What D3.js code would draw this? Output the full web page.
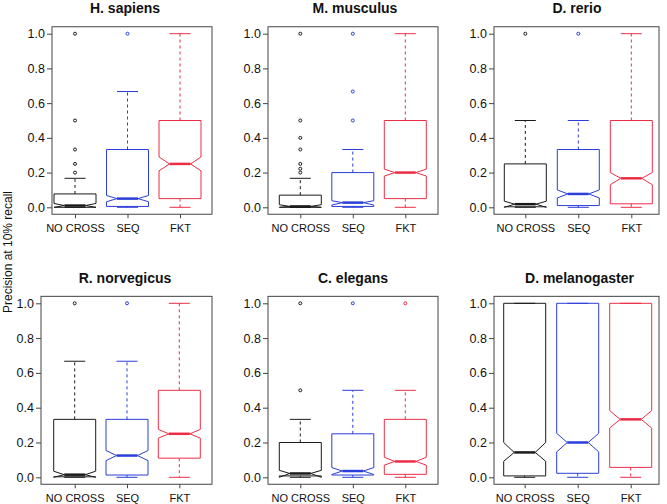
<!DOCTYPE html>
<html>
<head>
<meta charset="utf-8">
<script src="https://cdn.jsdelivr.net/npm/d3@7/dist/d3.min.js"></script>
<style>
  html, body { margin: 0; padding: 0; background: #fff; }
  svg { display: block; }
  text { font-family: "Liberation Sans", Arial, Helvetica, sans-serif; fill: #111; }
</style>
</head>
<body>
<svg id="chart" width="667" height="504"></svg>
<script>
// ---------------- data ----------------
const species = ["H. sapiens", "M. musculus", "D. rerio", "R. norvegicus", "C. elegans", "D. melanogaster"];
const categories = ["NO CROSS", "SEQ", "FKT"];
const categoryColors = ["#1a1a1a", "#2a3ed8", "#ec2d46"];
const yTickValues = [0, 0.2, 0.4, 0.6, 0.8, 1.0];
const yAxisTitle = "Precision at 10% recall";

// per species, per category [NO CROSS, SEQ, FKT]
const whiskerLow = [
  [0, 0, 0], [0, 0, 0], [0, 0, 0],
  [0, 0, 0], [0, 0, 0], [0, 0, 0]
];
const quartile1 = [
  [0, 0.005, 0.05], [0, 0.005, 0.05], [0.003, 0.01, 0.02],
  [0.003, 0.013, 0.11], [0.008, 0.013, 0.017], [0.008, 0.023, 0.057]
];
const medians = [
  [0.01, 0.05, 0.25], [0.005, 0.027, 0.2], [0.018, 0.077, 0.167],
  [0.015, 0.125, 0.25], [0.022, 0.036, 0.091], [0.143, 0.2, 0.333]
];
const quartile3 = [
  [0.077, 0.333, 0.5], [0.07, 0.2, 0.5], [0.25, 0.333, 0.5],
  [0.333, 0.333, 0.5], [0.2, 0.25, 0.333], [1.0, 1.0, 1.0]
];
const whiskerHigh = [
  [0.167, 0.667, 1.0], [0.167, 0.333, 1.0], [0.5, 0.5, 1.0],
  [0.667, 0.667, 1.0], [0.333, 0.5, 0.5], [1.0, 1.0, 1.0]
];
const notchLow = [
  [0.0, 0.032, 0.21], [0.0, 0.013, 0.18], [0.0, 0.054, 0.13],
  [0.0, 0.096, 0.225], [0.0, 0.016, 0.07], [0.092, 0.146, 0.283]
];
const notchHigh = [
  [0.022, 0.068, 0.29], [0.015, 0.038, 0.22], [0.035, 0.1, 0.2],
  [0.035, 0.154, 0.275], [0.04, 0.056, 0.115], [0.2, 0.253, 0.383]
];
const outliers = [
  [[0.2, 0.25, 0.333, 0.5, 1.0], [1.0], []],
  [[0.2, 0.222, 0.25, 0.333, 0.4, 0.5, 1.0], [0.5, 0.667, 1.0], []],
  [[1.0], [1.0], []],
  [[1.0], [1.0], []],
  [[0.5, 1.0], [1.0], [1.0]],
  [[], [], []]
];

// ---------------- layout ----------------
const panels = [
  { frame: [52, 212],  centers: [75, 180],       row: 0, titleX: 125 },
  { frame: [268, 438], centers: [300.3, 405.3],  row: 0, titleX: 355 },
  { frame: [494, 659], centers: [525.3, 631.3],  row: 0, titleX: 577 },
  { frame: [41, 212],  centers: [74.7, 179.3],   row: 1, titleX: 125 },
  { frame: [268, 438], centers: [300.3, 405.3],  row: 1, titleX: 353 },
  { frame: [494, 659], centers: [524.7, 630.7],  row: 1, titleX: 579.5 }
];
const rows = [
  { y0: 207.3, y1: 33.7, titleY: 13 },
  { y0: 477.3, y1: 303.3, titleY: 283 }
];
const halfBox = 21, halfStaple = 10.5;

const svg = d3.select("#chart");

panels.forEach((p, i) => {
  const r = rows[p.row];
  const y = d3.scaleLinear().domain([0, 1]).range([r.y0, r.y1]);
  const x = d3.scalePoint().domain(categories).range(p.centers);
  const pad = 0.04 * (r.y0 - r.y1);
  const top = r.y1 - pad, bottom = r.y0 + pad;
  const g = svg.append("g");

  // title
  g.append("text")
    .attr("x", p.titleX).attr("y", r.titleY)
    .attr("text-anchor", "middle")
    .style("font-weight", "bold").style("font-size", "14px")
    .text(species[i]);

  // y axis
  const ya = g.append("g").attr("transform", `translate(${p.frame[0]},0)`)
    .call(d3.axisLeft(y).tickValues(yTickValues).tickFormat(d3.format(".1f")).tickSize(5).tickPadding(2));
  ya.select(".domain").remove();
  ya.selectAll("line").attr("stroke", "#444");
  ya.selectAll("text").style("font-size", "12.5px").attr("fill", "#111");

  // x axis
  const xa = g.append("g").attr("transform", `translate(0,${bottom})`)
    .call(d3.axisBottom(x).tickSize(4).tickPadding(6));
  xa.select(".domain").remove();
  xa.selectAll("line").attr("stroke", "#444");
  xa.selectAll("text").style("font-size", "11px").attr("fill", "#111");

  // boxes
  categories.forEach((c, j) => {
    const cx = x(c), col = categoryColors[j];
    const lo = whiskerLow[i][j], q1 = quartile1[i][j], md = medians[i][j],
          q3 = quartile3[i][j], hi = whiskerHigh[i][j],
          nl = notchLow[i][j], nh = notchHigh[i][j];
    const bg = g.append("g");
    // whiskers
    if (hi > q3) bg.append("line").attr("x1", cx).attr("x2", cx).attr("y1", y(q3)).attr("y2", y(hi))
      .attr("stroke", col).attr("stroke-dasharray", "3,3");
    if (lo < q1) bg.append("line").attr("x1", cx).attr("x2", cx).attr("y1", y(q1)).attr("y2", y(lo))
      .attr("stroke", col).attr("stroke-dasharray", "3,3");
    [lo, hi].forEach(v => bg.append("line")
      .attr("x1", cx - halfStaple).attr("x2", cx + halfStaple).attr("y1", y(v)).attr("y2", y(v))
      .attr("stroke", col));
    // notched box
    const pts = [
      [cx - halfBox, q1], [cx - halfBox, nl], [cx - halfBox / 2, md], [cx - halfBox, nh],
      [cx - halfBox, q3], [cx + halfBox, q3], [cx + halfBox, nh], [cx + halfBox / 2, md],
      [cx + halfBox, nl], [cx + halfBox, q1]
    ];
    bg.append("path")
      .attr("d", d3.line().x(d => d[0]).y(d => y(d[1])).curve(d3.curveLinearClosed)(pts))
      .attr("fill", "none").attr("stroke", col).attr("stroke-width", 1);
    // median
    bg.append("line").attr("x1", cx - halfBox / 2).attr("x2", cx + halfBox / 2)
      .attr("y1", y(md)).attr("y2", y(md)).attr("stroke", col).attr("stroke-width", 2.5);
    // outliers
    bg.selectAll("circle").data(outliers[i][j]).join("circle")
      .attr("cx", cx).attr("cy", d => y(d)).attr("r", 1.5)
      .attr("fill", "none").attr("stroke", col).attr("stroke-width", 1);
  });

  // frame
  g.append("rect").attr("x", p.frame[0]).attr("y", top)
    .attr("width", p.frame[1] - p.frame[0]).attr("height", bottom - top)
    .attr("fill", "none").attr("stroke", "#444").attr("stroke-width", 1);
});

// shared y-axis title
svg.append("text")
  .attr("transform", "translate(12,252) rotate(-90)")
  .attr("text-anchor", "middle")
  .style("font-size", "12px")
  .text(yAxisTitle);
</script>
</body>
</html>
